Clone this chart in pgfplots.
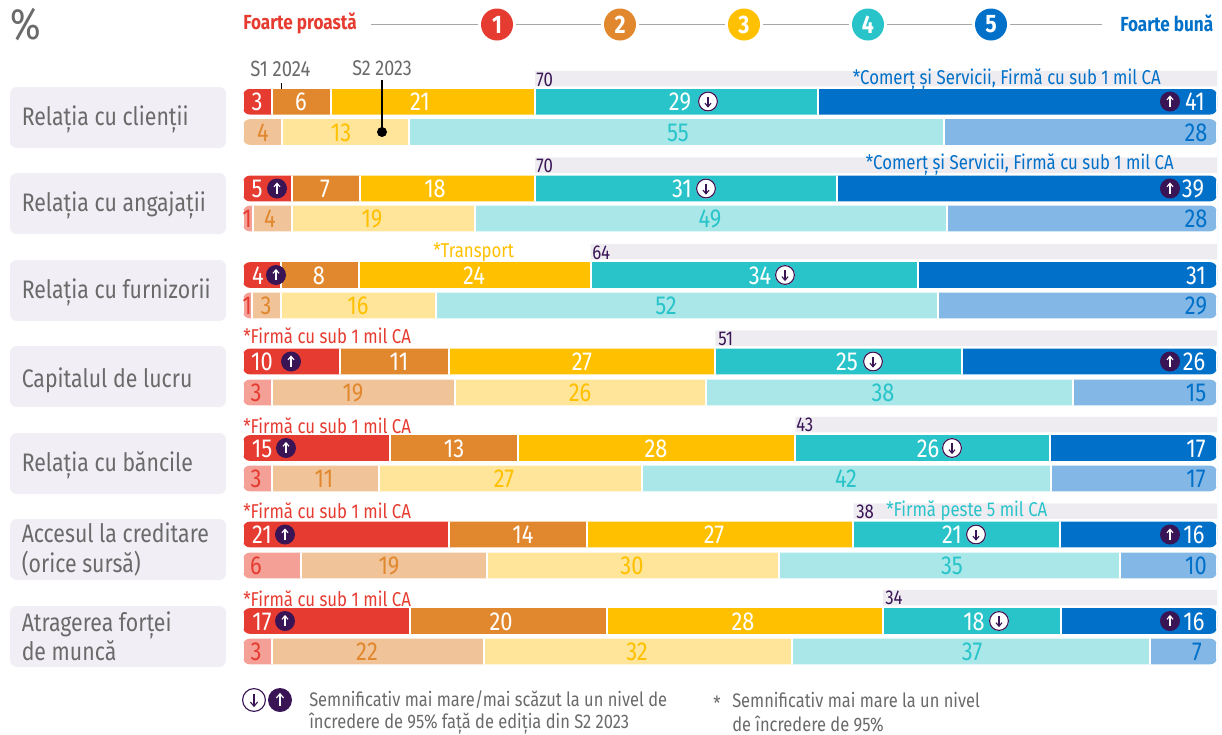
\documentclass[border=0pt]{standalone}
\usepackage{fontspec}
\usepackage{pgfplots}
\usepackage{pgfplotstable}
\pgfplotsset{compat=1.18}
\setmainfont[FakeStretch=0.84]{Fira Sans}
\definecolor{cr}{HTML}{E63B30}
\definecolor{co}{HTML}{E1882E}
\definecolor{cy}{HTML}{FFC000}
\definecolor{ct}{HTML}{29C4CA}
\definecolor{cb}{HTML}{0070C9}
\definecolor{lr}{HTML}{F4A097}
\definecolor{lo}{HTML}{F0C398}
\definecolor{ly}{HTML}{FFE599}
\definecolor{lt}{HTML}{A9E7E8}
\definecolor{lb}{HTML}{83B7E5}
\definecolor{dk}{HTML}{3A1556}
\definecolor{gb}{HTML}{F1EFF5}
\definecolor{gband}{HTML}{EEECF1}
\definecolor{txt}{HTML}{6A6A6A}
\pgfplotstableread{
y a b c d e
101.5 3 6 21 29 41
188.5 5 7 18 31 39
275.0 3.9 8 23.8 33.6 30.7
361.5 10 11.1 27.4 25.3 26.2
448.0 15.1 13.1 28.5 26.2 17.1
534.5 21.1 14.2 27.3 21.3 16.1
621.0 17.1 20.3 28.3 18.3 16
}\topdata
\pgfplotstableread{
y a b c d e
132.0 0 4 13 55 28
218.5 1 4 18.8 48.5 27.7
305.5 0.9 3 15.9 51.6 28.6
392.5 3 18.8 25.7 37.7 14.8
478.5 3 11 27 42 17
565.5 6 19 30 35 10
651.5 3 21.7 31.7 36.7 6.9
}\botdata
\pgfplotstableread{
y start net
78.5 30 70
165.0 30 70
251.5 35.7 64.3
338.0 48.5 51.5
424.5 56.7 43.3
511.0 62.7 37.3
597.5 65.7 34.3
}\banddata
\pgfplotsset{barax/.style={at={(0,733)},anchor=south west,width=916.5pt,height=549.75pt,
  scale only axis,hide axis,xmin=-24.949,xmax=100.513,ymin=0,ymax=733,y dir=reverse,
  xbar stacked,bar width=22.5pt,clip=false},
  seg/.style={fill=#1,draw=white,line width=1.5pt}}
\newcommand{\upi}[3][10]{\fill[dk] (#2,#3) circle[radius=#1];
  \draw[white,line width=.85pt] (#2,#3+#1*.5)--(#2,#3-#1*.5);
  \draw[white,line width=.85pt] (#2-#1*.3,#3-#1*.17)--(#2,#3-#1*.52)--(#2+#1*.3,#3-#1*.17);}
\newcommand{\dni}[3][10]{\fill[white] (#2,#3) circle[radius=#1];\draw[dk,line width=.85pt] (#2,#3) circle[radius=#1-.6];
  \draw[dk,line width=.85pt] (#2,#3-#1*.5)--(#2,#3+#1*.5);
  \draw[dk,line width=.85pt] (#2-#1*.3,#3+#1*.17)--(#2,#3+#1*.52)--(#2+#1*.3,#3+#1*.17);}
\newcommand{\numf}{\fontsize{19.5}{20}\selectfont}
\newcommand{\labf}{\fontsize{19}{22}\selectfont}
\newcommand{\smf}{\fontsize{15}{16}\selectfont}
\newcommand{\lgf}{\fontsize{14.7}{16}\selectfont}
\begin{document}
\begin{tikzpicture}[x=0.75pt,y=-0.75pt]
\path (0,0) rectangle (1222,733);
% row boxes
\foreach \yy in {87,173,260,346,433,519,606}
  \fill[gb,rounded corners=5pt] (10,\yy) rectangle (226,\yy+61);
% band
\begin{axis}[barax,bar width=15.5*0.75pt]
\addplot+[draw=none,fill=none] table[x=start,y=y]{\banddata};
\addplot+[draw=none,fill=gband] table[x=net,y=y]{\banddata};
\end{axis}
% bars
\begin{scope}
\clip[rounded corners=5pt]
 (243,89) rectangle (1217,114.5) (243,119.2) rectangle (1217,144.8)
 (243,175.7) rectangle (1217,201.3) (243,205.7) rectangle (1217,231.3)
 (243,262.2) rectangle (1217,287.8) (243,292.7) rectangle (1217,318.3)
 (243,348.7) rectangle (1217,374.3) (243,379.7) rectangle (1217,405.3)
 (243,435.2) rectangle (1217,460.8) (243,465.7) rectangle (1217,491.3)
 (243,521.7) rectangle (1217,547.3) (243,552.7) rectangle (1217,578.3)
 (243,608.2) rectangle (1217,633.8) (243,638.7) rectangle (1217,664.3);
\begin{axis}[barax]
\addplot+[seg=cr] table[x=a,y=y]{\topdata};
\addplot+[seg=co] table[x=b,y=y]{\topdata};
\addplot+[seg=cy] table[x=c,y=y]{\topdata};
\addplot+[seg=ct] table[x=d,y=y]{\topdata};
\addplot+[seg=cb] table[x=e,y=y]{\topdata};
\end{axis}
\begin{axis}[barax]
\addplot+[seg=lr] table[x=a,y=y]{\botdata};
\addplot+[seg=lo] table[x=b,y=y]{\botdata};
\addplot+[seg=ly] table[x=c,y=y]{\botdata};
\addplot+[seg=lt] table[x=d,y=y]{\botdata};
\addplot+[seg=lb] table[x=e,y=y]{\botdata};
\end{axis}
\end{scope}
% row names
\foreach \yy/\t in {119/Relația cu clienții,205/Relația cu angajații,292/Relația cu furnizorii,380/Capitalul de lucru,465/Relația cu băncile}
  \node[anchor=west,inner sep=0,text=txt,font=\labf] at (21.5,\yy) {\t};
\node[anchor=west,inner sep=0,text=txt,font=\labf,align=left] at (21.5,549.5) {Accesul la creditare\\(orice sursă)};
\node[anchor=west,inner sep=0,text=txt,font=\labf,align=left] at (21.5,636) {Atragerea forței\\de muncă};
% top values
\foreach \yy/\L in {101.5/{257/3,301/6,420/21,680/29,1195/41},
  188.5/{257/5,325/7,435/18,682/31,1193/39},
  275/{258/4,319/8,474/24,760/34,1196/31},
  361.5/{262/10,399/11,582/27,847/25,1194/26},
  448/{262/15,454/13,656/28,928/26,1196/17},
  534.5/{262/21,523/14,714/27,952/21,1194/16},
  621/{262/17,501/20,743/28,974/18,1194/16}}
  \foreach \x/\t in \L \node[text=white,font=\numf,inner sep=0] at (\x,\yy+.5) {\t};
% bottom values
\foreach \yy/\L in {132/{263/4/co,341/13/cy,678/55/ct,1196/28/cb},
  218.5/{247/1/cr,270/4/co,372/19/cy,710/49/ct,1196/28/cb},
  305.5/{247/1/cr,266/3/co,358/16/cy,666/52/ct,1196/29/cb},
  392.5/{256/3/cr,353/19/co,580/26/cy,883/38/ct,1196/15/cb},
  478.5/{256/3/cr,324/11/co,504/27/cy,846/42/ct,1196/17/cb},
  565.5/{256/6/cr,389/19/co,632/30/cy,952/35/ct,1196/10/cb},
  651.5/{256/3/cr,367/22/co,637/32/cy,972/37/ct,1197/7/cb}}
  \foreach \x/\t/\c in \L \node[text=\c,font=\numf,inner sep=0] at (\x,\yy+.5) {\t};
% icons
\foreach \x/\y in {277/188.5,276/275,291/361.5,286/448,285/534.5,285/621,1170/101.5,1170/188.5,1170/361.5,1170/534.5,1170/621}
  {\upi{\x}{\y}}
\foreach \x/\y in {708/101.5,706/188.5,785/275,873/361.5,952/448,976/534.5,999/621}
  {\dni{\x}{\y}}
% band numbers
\foreach \x/\y/\t in {536/79.5/70,536/165.5/70,592/252.5/64,718/338.5/51,796/424.5/43,856/511.5/38,885/597.5/34}
  \node[anchor=west,inner sep=0,text=dk,font=\smf] at (\x,\y) {\t};
% stars
\node[anchor=east,inner sep=0,text=cb,font=\smf] at (1161,79.5) {*Comerț și Servicii, Firmă cu sub 1 mil CA};
\node[anchor=east,inner sep=0,text=cb,font=\smf] at (1174,164.5) {*Comerț și Servicii, Firmă cu sub 1 mil CA};
\node[anchor=west,inner sep=0,text=cy,font=\smf] at (433,252) {*Transport};
\foreach \y in {336,426,511,599}
  \node[anchor=west,inner sep=0,text=cr,font=\smf] at (243,\y) {*Firmă cu sub 1 mil CA};
\node[anchor=west,inner sep=0,text=ct,font=\smf] at (886,511) {*Firmă peste 5 mil CA};
% series labels
\node[anchor=west,inner sep=0,text=txt,font=\fontsize{16.5}{17}\selectfont] at (250,68.5) {S1 2024};
\node[anchor=west,inner sep=0,text=txt,font=\fontsize{16}{17}\selectfont] at (352,68.5) {S2 2023};
\draw[black,line width=.6pt] (281,83)--(281,88.5);
\draw[black,line width=.8pt] (382,80)--(382,132);
\fill[black] (382,132) circle[radius=5];
% header
\node[anchor=west,inner sep=0,text=txt,font=\fontsize{33}{36}\selectfont] at (10,24.5) {\%};
\node[anchor=west,inner sep=0,text=cr,font=\fontsize{15.3}{17}\selectfont\bfseries] at (243,23.5) {Foarte proastă};
\node[anchor=west,inner sep=0,text=cb,font=\fontsize{15.3}{17}\selectfont\bfseries] at (1120,23.5) {Foarte bună};
\draw[gray!70,line width=.6pt] (371,24.5)--(1102,24.5);
\foreach \x/\c/\t in {497/cr/1,620/co/2,744/cy/3,868/ct/4,991/cb/5}{
  \fill[white] (\x,24.5) circle[radius=19];
  \fill[\c] (\x,24.5) circle[radius=16];
  \node[text=white,font=\fontsize{19}{20}\selectfont\bfseries,inner sep=0] at (\x,24.5) {\t};}
% legend
\dni[12]{254}{700}
\upi[12]{280}{700}
\node[anchor=west,inner sep=0,text=txt,font=\lgf] at (309,699.5) {Semnificativ mai mare/mai scăzut la un nivel de};
\node[anchor=west,inner sep=0,text=txt,font=\lgf] at (309,724) {încredere de 95\% față de ediția din S2 2023};
\node[anchor=west,inner sep=0,text=txt,font=\lgf] at (713,703) {*};
\node[anchor=west,inner sep=0,text=txt,font=\lgf] at (732,699.5) {Semnificativ mai mare la un nivel};
\node[anchor=west,inner sep=0,text=txt,font=\lgf] at (732,724) {de încredere de 95\%};
\end{tikzpicture}
\end{document}
